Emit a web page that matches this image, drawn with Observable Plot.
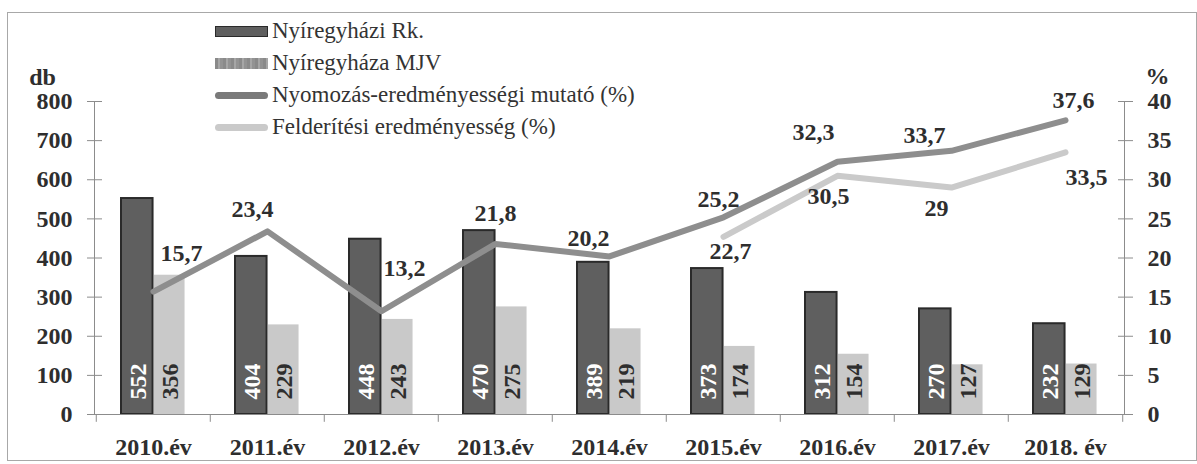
<!DOCTYPE html>
<html>
<head>
<meta charset="utf-8">
<script src="https://cdn.jsdelivr.net/npm/d3@7"></script>
<script src="https://cdn.jsdelivr.net/npm/@observablehq/plot@0.6"></script>
<style>
  html, body { margin: 0; padding: 0; background: #fff; }
  #wrap { position: relative; width: 1197px; height: 464px; overflow: hidden; }
  #border { position: absolute; left: 7px; top: 12px; width: 1190px; height: 449px; border: 1px solid #a8a8a8; box-sizing: border-box; pointer-events: none; }
  #legend { position: absolute; left: 215px; top: 15px; color: #333; font-size: 23px; font-family: 'Liberation Serif', serif; z-index: 2; }
  .row { display: flex; align-items: center; height: 32px; white-space: nowrap; }
  .sw { width: 53px; margin-right: 4px; box-sizing: border-box; flex: none; }
  svg { position: absolute; left: 0; top: 0; }
</style>
</head>
<body>
<div id="wrap">
  <div id="border"></div>
  <div id="legend"></div>
</div>
<script>
// ---- data ----
const years = ["2010.év","2011.év","2012.év","2013.év","2014.év","2015.év","2016.év","2017.év","2018. év"];
const rk    = [552, 404, 448, 470, 389, 373, 312, 270, 232];           // Nyíregyházi Rk. (db)
const mjv   = [356, 229, 243, 275, 219, 174, 154, 127, 129];           // Nyíregyháza MJV (db)
const nyom  = [15.7, 23.4, 13.2, 21.8, 20.2, 25.2, 32.3, 33.7, 37.6];  // Nyomozás-eredményességi mutató (%)
const feld  = [null, null, null, null, null, 22.7, 30.5, 29, 33.5];    // Felderítési eredményesség (%)
const leftTicks = [0, 100, 200, 300, 400, 500, 600, 700, 800];
const seriesNames = ["Nyíregyházi Rk.", "Nyíregyháza MJV", "Nyomozás-eredményességi mutató (%)", "Felderítési eredményesség (%)"];

// label nudges (pixels) for the line value labels
const nyomNudge = [[28,-38],[-15,-22],[23,-43],[0,-31],[-21,-18],[-5,-18],[-24,-29],[-27,-15],[8,-20]];
const feldNudge = [null,null,null,null,null,[7,14],[-9,20],[-15,21],[21,25]];

// ---- styles ----
const DARK = "#5f5f5f", DARK_EDGE = "#2a2a2a", LIGHT = "#c9c9c9", LINE1 = "#8e8e8e", LINE2 = "#cacaca", TXT = "#2e2e2e", AX = "#8c8c8c";
const pctToDb = 20; // 40 % on the right axis equals 800 db on the left

const rows = years.map((year, i) => ({year, rk: rk[i], mjv: mjv[i], nyom: nyom[i], feld: feld[i], i}));
const fmt = v => String(v).replace(".", ",");

const W = 1197, H = 464, mL = 94, mR = 73, mT = 101, mB = 50;
const bw = (W - mL - mR) / years.length;

const marks = [
  // bars
  Plot.barY(rows, {x: "year", y: "rk", fill: DARK, stroke: DARK_EDGE, strokeWidth: 2, insetLeft: 25, insetRight: bw - 57}),
  Plot.barY(rows, {x: "year", y: "mjv", fill: LIGHT, insetLeft: 58, insetRight: bw - 89}),
  // bar value labels
  Plot.text(rows, {x: "year", y: 0, text: d => String(d.rk), rotate: -90, textAnchor: "start", dx: -15, dy: -15, fill: "#fff", fontSize: 24, fontWeight: "bold"}),
  Plot.text(rows, {x: "year", y: 0, text: d => String(d.mjv), rotate: -90, textAnchor: "start", dx: 17, dy: -15, fill: TXT, fontSize: 24, fontWeight: "bold"}),
  // axes frame
  Plot.frame({anchor: "left", stroke: AX}),
  Plot.frame({anchor: "right", stroke: AX}),
  Plot.frame({anchor: "bottom", stroke: AX}),
  Plot.ruleX(rows, {x: "year", dx: -bw / 2, y1: 0, y2: -20, stroke: AX}),
  Plot.ruleX(rows.slice(-1), {x: "year", dx: bw / 2, y1: 0, y2: -20, stroke: AX}),
  Plot.axisY({anchor: "left", ticks: leftTicks, tickSize: 15, dx: 8, tickPadding: 15, stroke: AX, fill: TXT, fontSize: 24, fontWeight: "bold", label: null}),
  Plot.axisY({anchor: "right", ticks: leftTicks, tickFormat: d => String(d / pctToDb), tickSize: 15, dx: -7, tickPadding: 15, stroke: AX, fill: TXT, fontSize: 24, fontWeight: "bold", label: null}),
  Plot.axisX({anchor: "bottom", tickSize: 0, tickPadding: 23, fill: TXT, fontSize: 24, fontWeight: "bold", label: null}),
  Plot.text(["db"], {frameAnchor: "top-left", textAnchor: "middle", lineAnchor: "middle", dx: -52, dy: -24, fill: TXT, fontSize: 24, fontWeight: "bold"}),
  Plot.text(["%"], {frameAnchor: "top-right", textAnchor: "middle", lineAnchor: "middle", dx: 33, dy: -25, fill: TXT, fontSize: 24, fontWeight: "bold"}),
  // lines
  Plot.line(rows, {x: "year", y: d => d.nyom * pctToDb, stroke: LINE1, strokeWidth: 6, strokeLinecap: "round", strokeLinejoin: "round"}),
  Plot.line(rows.filter(d => d.feld != null), {x: "year", y: d => d.feld * pctToDb, stroke: LINE2, strokeWidth: 6, strokeLinecap: "round", strokeLinejoin: "round"}),
  // line labels
  ...rows.map((d, i) => Plot.text([d], {x: "year", y: r => r.nyom * pctToDb, text: r => fmt(r.nyom), dx: nyomNudge[i][0], dy: nyomNudge[i][1], fill: TXT, fontSize: 24, fontWeight: "bold"})),
  ...rows.filter(d => d.feld != null).map(d => Plot.text([d], {x: "year", y: r => r.feld * pctToDb, text: r => fmt(r.feld), dx: feldNudge[d.i][0], dy: feldNudge[d.i][1], fill: TXT, fontSize: 24, fontWeight: "bold"}))
];

const chart = Plot.plot({
  width: W, height: H,
  marginLeft: mL, marginRight: mR, marginTop: mT, marginBottom: mB,
  x: {domain: years, padding: 0, axis: null},
  y: {domain: [0, 800], axis: null},
  style: {fontFamily: "'Liberation Serif', serif", fontSize: "24px", fontWeight: "bold", color: TXT, background: "transparent", overflow: "visible"},
  marks
});
document.getElementById("wrap").appendChild(chart);

// ---- legend ----
const legend = document.getElementById("legend");
const swatches = [
  `height:11px;background:${DARK};border:1px solid ${DARK_EDGE};`,
  `height:11px;background:repeating-linear-gradient(90deg,#8a8a8a 0 3px,#a6a6a6 3px 5px,#939393 5px 8px);`,
  `height:7px;background:#7a7a7a;border-radius:4px;`,
  `height:7px;background:${LINE2};border-radius:4px;`
];
seriesNames.forEach((name, i) => {
  const row = document.createElement("div");
  row.className = "row";
  const sw = document.createElement("div");
  sw.className = "sw";
  sw.style.cssText = swatches[i];
  const t = document.createElement("span");
  t.textContent = name;
  row.appendChild(sw);
  row.appendChild(t);
  legend.appendChild(row);
});
</script>
</body>
</html>
